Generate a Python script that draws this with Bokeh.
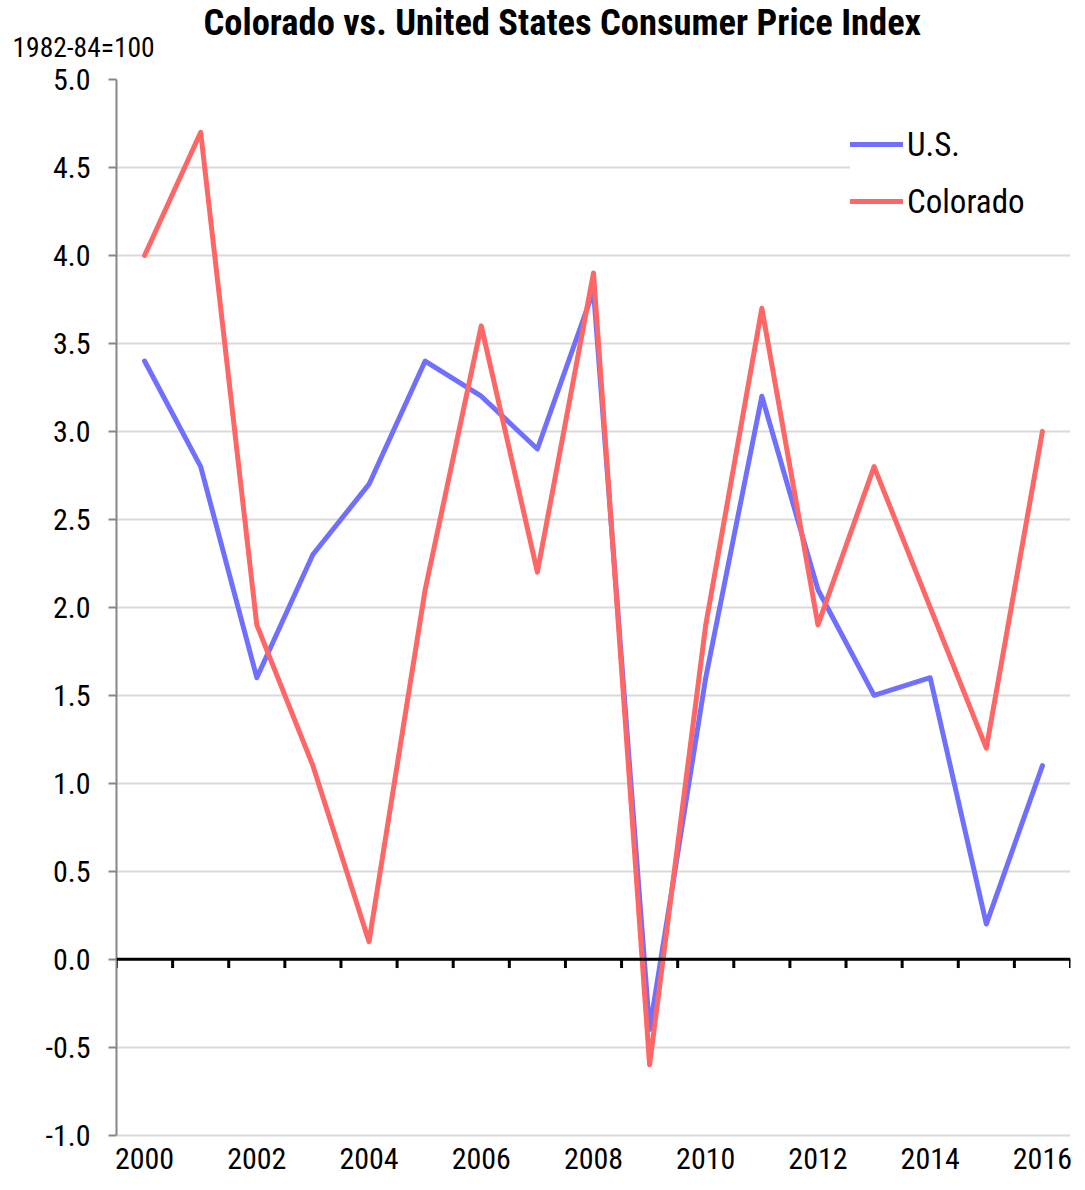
from bokeh.plotting import figure
from bokeh.models import FixedTicker, Span, Legend, LegendItem, Range1d, Title
from bokeh.embed import file_html
from bokeh.resources import INLINE

years = list(range(2000, 2017))
us = [3.4, 2.8, 1.6, 2.3, 2.7, 3.4, 3.2, 2.9, 3.8, -0.4, 1.6, 3.2, 2.1, 1.5, 1.6, 0.2, 1.1]
colorado = [4.0, 4.7, 1.9, 1.1, 0.1, 2.1, 3.6, 2.2, 3.9, -0.6, 1.9, 3.7, 1.9, 2.8, 2.0, 1.2, 3.0]
y_ticks = [-1.0, -0.5, 0.0, 0.5, 1.0, 1.5, 2.0, 2.5, 3.0, 3.5, 4.0, 4.5, 5.0]
x_tick_labels = years[::2]
title_text = "Colorado vs. United States Consumer Price Index"
unit_text = "1982-84=100"

FONT = "Roboto Condensed"
BLUE = "#7070ff"
RED = "#ff6666"

# a little room below -1.0 so the year labels sit lower; the axis line stops at -1.0
p = figure(width=1077, height=1182, output_backend="svg", toolbar_location=None,
           x_range=Range1d(years[0] - 0.5, years[-1] + 0.5),
           y_range=Range1d(y_ticks[0] - 0.07, y_ticks[-1]),
           min_border_left=116, min_border_right=7, min_border_top=79, min_border_bottom=35)
p.outline_line_color = None
p.xgrid.grid_line_color = None
p.ygrid.grid_line_color = "#d9d9d9"
p.ygrid.grid_line_width = 2
p.ygrid.ticker = FixedTicker(ticks=y_ticks)

p.title = Title(text=title_text, align="left", offset=87, text_font=FONT,
                text_font_style="bold", text_font_size="36.5px", text_color="black", standoff=-63)
p.add_layout(Title(text=unit_text, align="left", offset=-104, text_font=FONT,
                   text_font_style="normal", text_font_size="27.5px", text_color="black", standoff=32),
             "above")

p.yaxis.ticker = FixedTicker(ticks=y_ticks)
p.yaxis.bounds = (y_ticks[0], y_ticks[-1])
p.yaxis.major_label_overrides = {t: f"{t:.1f}" for t in y_ticks}
p.yaxis.axis_line_color = "#868686"
p.yaxis.axis_line_width = 2
p.yaxis.major_tick_line_color = "#868686"
p.yaxis.major_tick_line_width = 2
p.yaxis.major_tick_out = 8
p.yaxis.major_tick_in = 0
p.yaxis.minor_tick_line_color = None
p.yaxis.major_label_standoff = 18
p.yaxis.major_label_text_font = FONT
p.yaxis.major_label_text_font_size = "30px"
p.yaxis.major_label_text_color = "black"

p.xaxis.ticker = FixedTicker(ticks=x_tick_labels)
p.xaxis.axis_line_color = None
p.xaxis.major_tick_line_color = None
p.xaxis.major_tick_out = 0
p.xaxis.major_tick_in = 0
p.xaxis.minor_tick_line_color = None
p.xaxis.minor_tick_out = 0
p.xaxis.major_label_standoff = 0
p.xaxis.major_label_text_font = FONT
p.xaxis.major_label_text_font_size = "30px"
p.xaxis.major_label_text_color = "black"

# zero line with year-boundary tick marks
p.add_layout(Span(location=0, dimension="width", line_color="black", line_width=3))
bounds = [y - 0.5 for y in years] + [years[-1] + 0.5]
p.segment(x0=bounds, y0=[0] * len(bounds), x1=bounds, y1=[-0.05] * len(bounds),
          line_color="black", line_width=3)

r_us = p.line(years, us, line_color=BLUE, line_width=5, line_join="round", line_cap="round")
r_co = p.line(years, colorado, line_color=RED, line_width=5, line_join="round", line_cap="round")

legend = Legend(items=[LegendItem(label="U.S.", renderers=[r_us]),
                       LegendItem(label="Colorado", renderers=[r_co])],
                location=(734, 922), border_line_color=None, background_fill_color="white",
                background_fill_alpha=1.0, padding=0, margin=0, glyph_width=53, glyph_height=48,
                label_height=48, label_width=163, spacing=9, label_standoff=4,
                label_text_font=FONT, label_text_font_size="33px", label_text_color="black")
p.add_layout(legend)

open("out.html", "w").write(file_html(p, INLINE))
